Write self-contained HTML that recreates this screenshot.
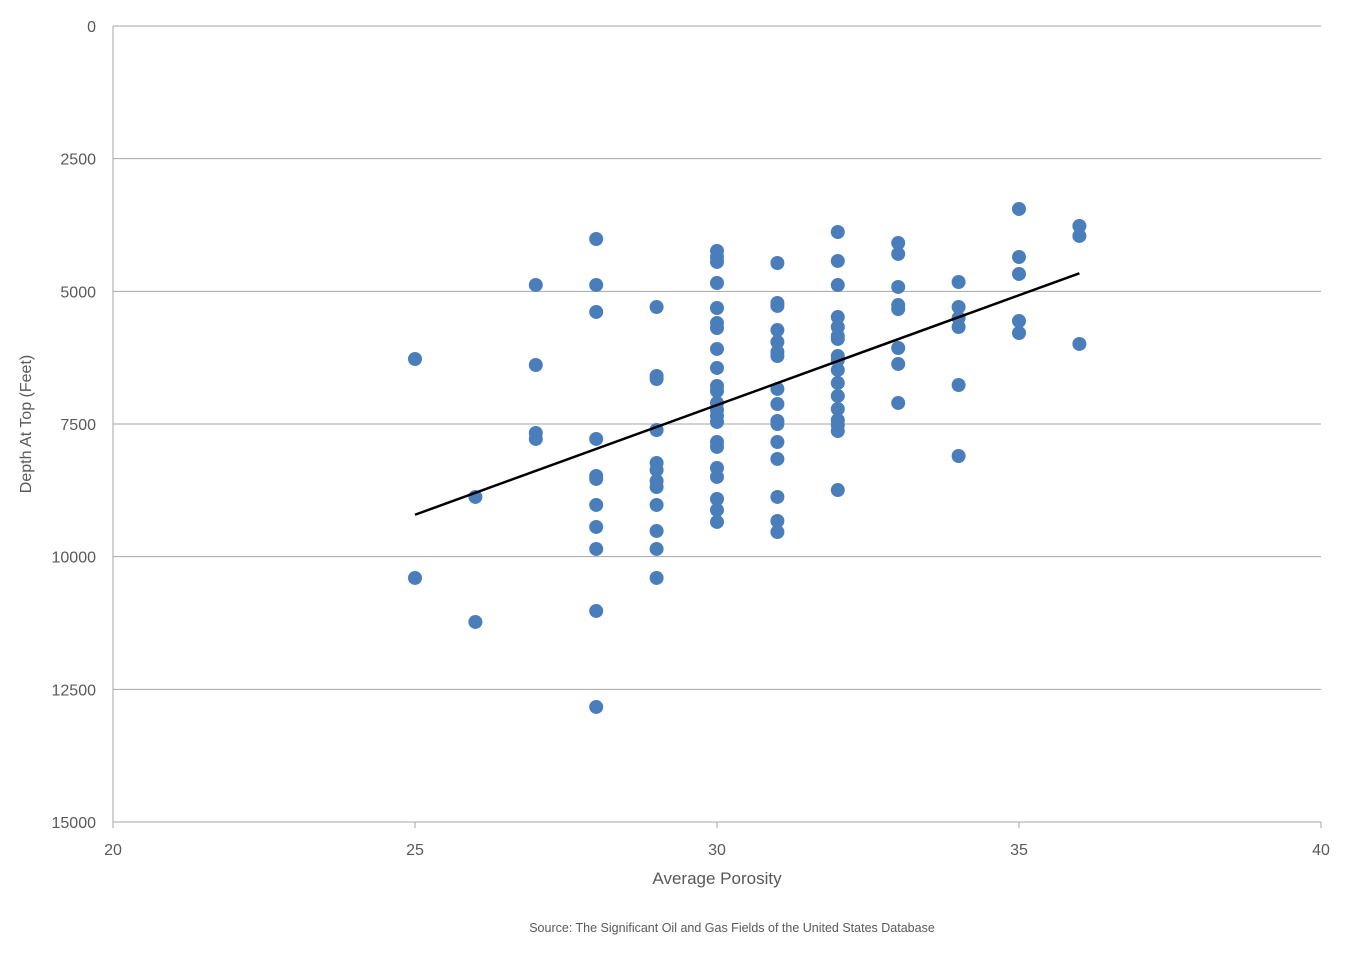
<!DOCTYPE html>
<html><head><meta charset="utf-8"><style>
body{margin:0;background:#fff;}
svg text{font-family:"Liberation Sans",sans-serif;fill:#595959;}
</style></head><body>
<svg id="chart" width="1350" height="950" xmlns="http://www.w3.org/2000/svg">
<g id="grid"></g>
<g id="axes"></g>
<g id="pts"></g>
<g id="trend"></g>
<text x="0" y="0" transform="translate(31,424) rotate(-90)" text-anchor="middle" font-size="16">Depth At Top (Feet)</text>
<text x="717" y="884" text-anchor="middle" font-size="17">Average Porosity</text>
<text x="732" y="932" text-anchor="middle" font-size="12.5">Source:  The Significant Oil and Gas Fields of the United States Database</text>
</svg>
<script>
const xTicks=[20,25,30,35,40];
const yTicks=[0,2500,5000,7500,10000,12500,15000];
const porosity=[25,25,26,26,27,27,27,27,
28,28,28,28,28,28,28,28,28,28,28,
29,29,29,29,29,29,29,29,29,29,29,29,
30,30,30,30,30,30,30,30,30,30,30,30,30,30,30,30,30,30,30,30,30,30,
31,31,31,31,31,31,31,31,31,31,31,31,31,31,31,31,
32,32,32,32,32,32,32,32,32,32,32,32,32,32,32,32,32,
33,33,33,33,33,33,33,33,
34,34,34,34,34,34,
35,35,35,35,35,
36,36,36];
const depth=[6275,10401,8875,11230,4880,6388,7669,7782,
4014,4880,5389,7782,8479,8536,9026,9440,9855,11023,12832,
5295,6595,6652,7613,8234,8366,8574,8687,9026,9516,9855,10401,
4240,4353,4447,4843,5314,5597,5691,6086,6444,6783,6878,7104,7236,7349,7462,7839,7933,8329,8498,8913,9120,9346,
4466,5220,5276,5729,5955,6143,6219,6840,7123,7443,7500,7839,8159,8875,9328,9535,
3882,4428,4881,5484,5672,5842,5898,6219,6294,6482,6727,6972,7217,7425,7519,7632,8744,
4089,4296,4918,5258,5333,6068,6369,7104,
4824,5295,5502,5672,6765,8103,
3448,4353,4673,5559,5785,
3769,3957,5992];
const NS='http://www.w3.org/2000/svg';
const L=113,R=1321,T=26,B=822;
const sx=v=>L+(v-20)/20*(R-L);
const sy=v=>T+v/15000*(B-T);
function mk(tag,attrs,parent){const e=document.createElementNS(NS,tag);for(const k in attrs)e.setAttribute(k,attrs[k]);parent.appendChild(e);return e;}
const grid=document.getElementById('grid'),axes=document.getElementById('axes'),pts=document.getElementById('pts'),trend=document.getElementById('trend');
yTicks.forEach(t=>{
 const ln=mk('line',{x1:L,x2:R,y1:sy(t),y2:sy(t),stroke:'#a6a6a6','stroke-width':1},grid);
 
 
 const tx=mk('text',{x:96,y:sy(t)+6,'text-anchor':'end','font-size':16},axes);
 tx.textContent=t;
 
 
});
const ya=mk('line',{x1:L,x2:L,y1:T,y2:B,stroke:'#a6a6a6','stroke-width':1},axes);


xTicks.forEach(t=>{
 const tk=mk('line',{x1:sx(t),x2:sx(t),y1:B,y2:B+6,stroke:'#a6a6a6','stroke-width':1},axes);
 
 
 const tx=mk('text',{x:sx(t),y:855,'text-anchor':'middle','font-size':16},axes);
 tx.textContent=t;
 
 
});
porosity.forEach((p,i)=>{
 const c=mk('circle',{cx:sx(p),cy:sy(depth[i]),r:7,fill:'#4a7ebb'},pts);
 
 
});
// least squares trendline
const n=porosity.length;let mx=0,my=0;
porosity.forEach((p,i)=>{mx+=p;my+=depth[i];});mx/=n;my/=n;
let sxy=0,sxx=0;porosity.forEach((p,i)=>{sxy+=(p-mx)*(depth[i]-my);sxx+=(p-mx)*(p-mx);});
const slope=sxy/sxx,icpt=my-slope*mx;
const x0=Math.min(...porosity),x1=Math.max(...porosity);
const tl=mk('line',{x1:sx(x0),y1:sy(icpt+slope*x0),x2:sx(x1),y2:sy(icpt+slope*x1),stroke:'#000','stroke-width':2.5},trend);


</script>
</body></html>
